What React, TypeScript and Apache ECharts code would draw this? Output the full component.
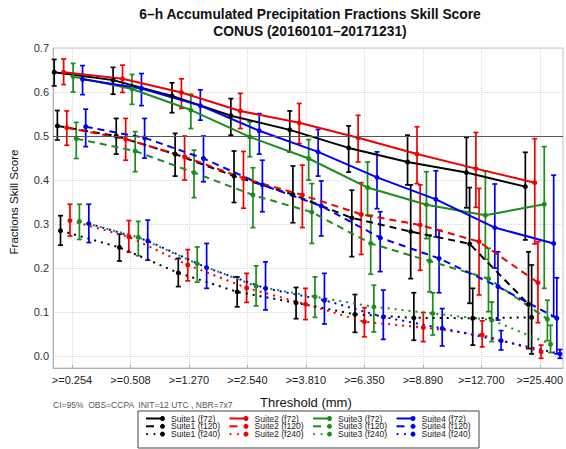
import React, { useEffect, useRef } from "react";
import * as echarts from "echarts";

// Threshold categories (mm / 6 h)
const thresholds = [">=0.254", ">=0.508", ">=1.270", ">=2.540", ">=3.810", ">=6.350", ">=8.890", ">=12.700", ">=25.400"];

const suiteNames = ["Suite1", "Suite2", "Suite3", "Suite4"];
const leadNames = ["f72", "f120", "f240"];
const suiteColors = ["#000000", "#f00000", "#1c8c1c", "#0000f0"];

// Mean FSS and 95% confidence bounds, per suite and forecast lead
const s1f72 = [0.645, 0.627, 0.591, 0.546, 0.514, 0.473, 0.441, 0.417, 0.385];
const s1f72Lo = [0.614, 0.595, 0.553, 0.502, 0.464, 0.418, 0.389, 0.337, 0.264];
const s1f72Hi = [0.674, 0.656, 0.621, 0.585, 0.557, 0.523, 0.502, 0.497, 0.463];

const s1f120 = [0.523, 0.5, 0.459, 0.409, 0.367, 0.314, 0.283, 0.255, 0.118];
const s1f120Lo = [0.491, 0.459, 0.409, 0.349, 0.303, 0.226, 0.176, 0.12, 0.017];
const s1f120Hi = [0.558, 0.54, 0.506, 0.466, 0.432, 0.377, 0.389, 0.383, 0.237];

const s1f240 = [0.285, 0.247, 0.189, 0.146, 0.121, 0.095, 0.087, 0.086, 0.088];
const s1f240Lo = [0.252, 0.216, 0.158, 0.112, 0.085, 0.054, 0.036, 0.025, 0.005];
const s1f240Hi = [0.319, 0.277, 0.222, 0.18, 0.156, 0.14, 0.144, 0.154, 0.207];

const s2f72 = [0.645, 0.63, 0.599, 0.557, 0.53, 0.496, 0.459, 0.426, 0.394];
const s2f72Lo = [0.617, 0.599, 0.563, 0.517, 0.483, 0.441, 0.392, 0.338, 0.255];
const s2f72Hi = [0.675, 0.661, 0.63, 0.597, 0.574, 0.547, 0.521, 0.508, 0.494];

const s2f120 = [0.519, 0.493, 0.453, 0.404, 0.366, 0.322, 0.298, 0.26, 0.167];
const s2f120Lo = [0.479, 0.445, 0.4, 0.336, 0.292, 0.231, 0.195, 0.139, 0.076];
const s2f120Hi = [0.557, 0.54, 0.5, 0.465, 0.434, 0.394, 0.389, 0.381, 0.26];

const s2f240 = [0.308, 0.271, 0.207, 0.155, 0.118, 0.078, 0.065, 0.048, 0.01];
const s2f240Lo = [0.273, 0.236, 0.171, 0.122, 0.083, 0.044, 0.033, 0.021, -0.005];
const s2f240Hi = [0.345, 0.308, 0.242, 0.188, 0.154, 0.11, 0.099, 0.08, 0.025];

const s3f72 = [0.635, 0.607, 0.559, 0.498, 0.449, 0.383, 0.344, 0.32, 0.345];
const s3f72Lo = [0.6, 0.572, 0.517, 0.453, 0.4, 0.32, 0.267, 0.22, 0.154];
const s3f72Hi = [0.665, 0.64, 0.595, 0.532, 0.492, 0.441, 0.419, 0.42, 0.476];

const s3f120 = [0.494, 0.466, 0.417, 0.366, 0.327, 0.256, 0.216, 0.176, 0.084];
const s3f120Lo = [0.449, 0.419, 0.36, 0.292, 0.256, 0.186, 0.146, 0.101, 0.035];
const s3f120Hi = [0.531, 0.51, 0.468, 0.428, 0.392, 0.32, 0.275, 0.245, 0.127];

const s3f240 = [0.306, 0.27, 0.21, 0.159, 0.135, 0.112, 0.097, 0.082, 0.027];
const s3f240Lo = [0.265, 0.228, 0.168, 0.114, 0.088, 0.055, 0.048, 0.033, 0.008];
const s3f240Hi = [0.345, 0.306, 0.248, 0.205, 0.18, 0.161, 0.144, 0.123, 0.07];

const s4f72 = [0.629, 0.608, 0.569, 0.512, 0.464, 0.406, 0.356, 0.292, 0.256];
const s4f72Lo = [0.594, 0.569, 0.536, 0.459, 0.409, 0.335, 0.271, 0.2, 0.09];
const s4f72Hi = [0.66, 0.642, 0.605, 0.551, 0.515, 0.464, 0.421, 0.391, 0.411];

const s4f120 = [0.521, 0.496, 0.449, 0.389, 0.341, 0.269, 0.222, 0.158, 0.086];
const s4f120Lo = [0.476, 0.45, 0.396, 0.328, 0.273, 0.192, 0.144, 0.082, 0.005];
const s4f120Hi = [0.561, 0.54, 0.5, 0.445, 0.398, 0.328, 0.286, 0.237, 0.178];

const s4f240 = [0.301, 0.262, 0.201, 0.154, 0.127, 0.089, 0.063, 0.035, 0.005];
const s4f240Lo = [0.258, 0.218, 0.154, 0.105, 0.073, 0.038, 0.023, 0.014, -0.005];
const s4f240Hi = [0.345, 0.309, 0.256, 0.214, 0.188, 0.15, 0.108, 0.058, 0.015];

const yTickLabels = ["0.0", "0.1", "0.2", "0.3", "0.4", "0.5", "0.6", "0.7"];

const runs = [
  { suite: 0, lead: 0, mean: s1f72, lo: s1f72Lo, hi: s1f72Hi },
  { suite: 0, lead: 1, mean: s1f120, lo: s1f120Lo, hi: s1f120Hi },
  { suite: 0, lead: 2, mean: s1f240, lo: s1f240Lo, hi: s1f240Hi },
  { suite: 1, lead: 0, mean: s2f72, lo: s2f72Lo, hi: s2f72Hi },
  { suite: 1, lead: 1, mean: s2f120, lo: s2f120Lo, hi: s2f120Hi },
  { suite: 1, lead: 2, mean: s2f240, lo: s2f240Lo, hi: s2f240Hi },
  { suite: 2, lead: 0, mean: s3f72, lo: s3f72Lo, hi: s3f72Hi },
  { suite: 2, lead: 1, mean: s3f120, lo: s3f120Lo, hi: s3f120Hi },
  { suite: 2, lead: 2, mean: s3f240, lo: s3f240Lo, hi: s3f240Hi },
  { suite: 3, lead: 0, mean: s4f72, lo: s4f72Lo, hi: s4f72Hi },
  { suite: 3, lead: 1, mean: s4f120, lo: s4f120Lo, hi: s4f120Hi },
  { suite: 3, lead: 2, mean: s4f240, lo: s4f240Lo, hi: s4f240Hi },
];

const FONT = "'Liberation Sans', Arial, Helvetica, sans-serif";
const lineTypes: any[] = ["solid", [7, 5], [2, 5]];
const dodgeStep = 0.0535;

function buildOption() {
  const series: any[] = [];
  runs.forEach((r, k) => {
    const color = suiteColors[r.suite];
    const off = (k - 5.6) * dodgeStep;
    series.push({
      type: "custom",
      name: `${suiteNames[r.suite]} (${leadNames[r.lead]}) CI`,
      xAxisIndex: 0,
      yAxisIndex: 0,
      z: 2,
      silent: true,
      data: r.mean.map((_, i) => [i + off, r.lo[i], r.hi[i]]),
      encode: { x: 0, y: [1, 2] },
      renderItem: (_p: any, api: any) => {
        const x = api.value(0);
        const a = api.coord([x, api.value(2)]);
        const b = api.coord([x, api.value(1)]);
        const w = 2.5;
        const style = { stroke: color, lineWidth: 1.7 };
        return {
          type: "group",
          children: [
            { type: "line", shape: { x1: a[0], y1: a[1], x2: b[0], y2: b[1] }, style },
            { type: "line", shape: { x1: a[0] - w, y1: a[1], x2: a[0] + w, y2: a[1] }, style },
            { type: "line", shape: { x1: b[0] - w, y1: b[1], x2: b[0] + w, y2: b[1] }, style },
          ],
        };
      },
    });
    const line: any = {
      type: "line",
      name: `${suiteNames[r.suite]} (${leadNames[r.lead]})`,
      xAxisIndex: 0,
      yAxisIndex: 0,
      z: 3,
      data: r.mean.map((v, i) => [i + off, v]),
      symbol: "circle",
      symbolSize: 5,
      showSymbol: true,
      itemStyle: { color },
      lineStyle: { color, width: 2, type: lineTypes[r.lead] },
    };
    if (k === 0) {
      line.markLine = {
        silent: true,
        symbol: "none",
        label: { show: false },
        lineStyle: { color: "#555", width: 1, type: "solid" },
        data: [{ yAxis: 0.5 }],
      };
    }
    series.push(line);
  });

  // legend drawn as a framed 4 x 3 table
  const legend: any[] = [
    { type: "rect", shape: { x: 138, y: 411, width: 341, height: 37 }, style: { fill: "#fff", stroke: "#444", lineWidth: 1 } },
  ];
  suiteNames.forEach((s, si) => {
    const x0 = 146 + 83.5 * si;
    const color = suiteColors[si];
    leadNames.forEach((l, li) => {
      const y = 418.5 + 7.8 * li;
      if (li === 0) {
        legend.push({ type: "line", shape: { x1: x0, y1: y, x2: x0 + 16, y2: y }, style: { stroke: color, lineWidth: 2 } });
      } else if (li === 1) {
        legend.push({ type: "line", shape: { x1: x0, y1: y, x2: x0 + 8, y2: y }, style: { stroke: color, lineWidth: 2 } });
      } else {
        legend.push({ type: "circle", shape: { cx: x0 + 1, cy: y, r: 1 }, style: { fill: color } });
        legend.push({ type: "circle", shape: { cx: x0 + 8.5, cy: y, r: 1 }, style: { fill: color } });
      }
      legend.push({ type: "circle", shape: { cx: x0 + 16.5, cy: y, r: 2.5 }, style: { fill: color } });
      legend.push({
        type: "text",
        x: x0 + 25,
        y,
        style: { text: `${s} (${l})`, fill: "#222", font: `8.6px ${FONT}`, textVerticalAlign: "middle", verticalAlign: "middle" },
      });
    });
  });

  return {
    animation: false,
    backgroundColor: "#fff",
    textStyle: { fontFamily: FONT },
    grid: [
      { left: 53, right: 3, top: 48, bottom: 81, show: true, borderColor: "#c4c4c4", borderWidth: 1, backgroundColor: "transparent" },
      { left: 53, right: 3, top: 48, bottom: 92.9 },
      { left: 72, right: 23, top: 48, bottom: 81 },
    ],
    xAxis: [
      {
        type: "value", gridIndex: 0, min: -0.32, max: 8.34,
        axisLine: { show: true, onZero: false, lineStyle: { color: "#b0b0b0" } },
        axisTick: { show: false }, axisLabel: { show: false }, splitLine: { show: false },
      },
      {
        type: "value", gridIndex: 1, min: 0, max: 1, show: false,
      },
      {
        type: "value", gridIndex: 2, min: 0, max: 8, interval: 1,
        name: "Threshold (mm)", nameLocation: "middle", nameGap: 28,
        nameTextStyle: { fontSize: 13, color: "#111", fontFamily: FONT },
        axisLine: { show: false, onZero: false },
        axisTick: { show: true, inside: true, length: 3, lineStyle: { color: "#b0b0b0" } },
        axisLabel: { show: true, fontSize: 11, color: "#222", margin: 6, formatter: (v: number) => thresholds[v] ?? "" },
        splitLine: { show: true, lineStyle: { color: "#d8d8d8", type: "dotted", width: 1 } },
      },
    ],
    yAxis: [
      {
        type: "value", gridIndex: 0, min: -0.027, max: 0.7,
        axisLine: { show: true, onZero: false, lineStyle: { color: "#b0b0b0" } },
        axisTick: { show: false }, axisLabel: { show: false }, splitLine: { show: false },
      },
      {
        type: "value", gridIndex: 1, min: 0, max: 0.7, interval: 0.1,
        name: "Fractions Skill Score", nameLocation: "middle", nameGap: 35, nameRotate: 90,
        nameTextStyle: { fontSize: 11.5, color: "#111", fontFamily: FONT },
        axisLine: { show: false, onZero: false }, axisTick: { show: false },
        axisLabel: { fontSize: 11, color: "#333", margin: 6, formatter: (v: number) => yTickLabels[Math.round(v * 10)] ?? "" },
        splitLine: { show: true, lineStyle: { color: "#d8d8d8", type: "dotted", width: 1 } },
      },
      {
        type: "value", gridIndex: 2, min: 0, max: 1, show: false,
      },
    ],
    series,
    graphic: [
      {
        type: "text", x: 310, y: 14,
        style: { text: "6\u2013h Accumulated Precipitation Fractions Skill Score", fill: "#111", font: `bold 13.8px ${FONT}`, textAlign: "center", textVerticalAlign: "middle", align: "center", verticalAlign: "middle" },
      },
      {
        type: "text", x: 310, y: 31,
        style: { text: "CONUS (20160101\u201320171231)", fill: "#111", font: `bold 13.8px ${FONT}`, textAlign: "center", textVerticalAlign: "middle", align: "center", verticalAlign: "middle" },
      },
      {
        type: "text", x: 53, y: 405,
        style: { text: "CI=95%  OBS=CCPA  INIT=12 UTC , NBR=7x7", fill: "#555", font: `8.5px ${FONT}`, textVerticalAlign: "middle", verticalAlign: "middle" },
      },
      ...legend,
    ],
  };
}

export default function App() {
  const ref = useRef<HTMLDivElement>(null);
  useEffect(() => {
    if (!ref.current) return;
    const chart = echarts.init(ref.current, undefined, { renderer: "svg" });
    chart.setOption(buildOption() as any);
    return () => chart.dispose();
  }, []);
  return <div ref={ref} style={{ position: "absolute", left: 0, top: 0, width: 566, height: 449 }} />;
}
